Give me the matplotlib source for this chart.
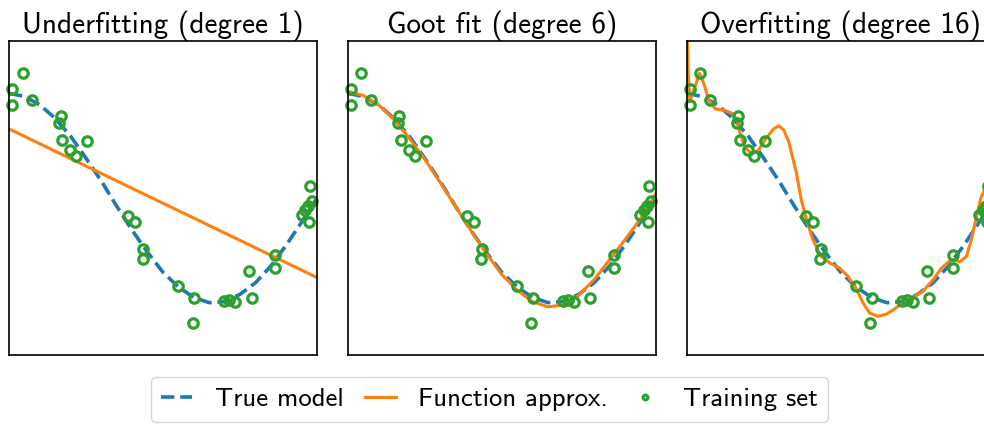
import matplotlib
matplotlib.use("Agg")
import matplotlib.pyplot as plt

plt.rcParams['font.family'] = ['cmss10', 'DejaVu Sans']
plt.rcParams['axes.unicode_minus'] = False

# training points
train_x = [0.009, 0.009, 0.044, 0.075, 0.163, 0.168, 0.173, 0.198, 0.218, 0.253,
           0.386, 0.409, 0.434, 0.436, 0.550, 0.596, 0.600, 0.698, 0.715, 0.735,
           0.780, 0.788, 0.863, 0.865, 0.950, 0.961, 0.972, 0.974, 0.977, 0.984]
train_y = [1.04, 0.89, 1.19, 0.94, 0.72, 0.78, 0.55, 0.46, 0.40, 0.54,
           -0.17, -0.23, -0.58, -0.49, -0.84, -1.19, -0.96, -0.98, -0.97, -0.99,
           -0.70, -0.96, -0.67, -0.54, -0.16, -0.11, -0.08, -0.23, 0.11, -0.03]

# true model (dashed)
true_x = [0.0, 0.05, 0.1, 0.15, 0.2, 0.25, 0.3, 0.35, 0.4, 0.45, 0.5,
          0.55, 0.6, 0.65, 0.7, 0.75, 0.8, 0.85, 0.9, 0.95, 1.0]
true_y = [1.0, 0.97, 0.89, 0.76, 0.59, 0.38, 0.16, -0.08, -0.31, -0.52, -0.71,
          -0.85, -0.95, -1.0, -0.99, -0.92, -0.81, -0.65, -0.45, -0.23, 0.0]

# degree 1 fit
deg1_x = [0.0, 1.0]
deg1_y = [0.66, -0.76]

# degree 6 fit
deg6_x = true_x
deg6_y = [1.02, 0.98, 0.89, 0.75, 0.57, 0.37, 0.15, -0.08, -0.31, -0.53, -0.73,
          -0.88, -0.99, -1.04, -1.02, -0.93, -0.78, -0.59, -0.40, -0.20, 0.04]

# degree 16 fit
deg16_x = [0.0, 0.004, 0.010, 0.025, 0.042, 0.057, 0.071, 0.093, 0.12, 0.147,
           0.163, 0.174, 0.19, 0.212, 0.234, 0.255, 0.282, 0.299, 0.315, 0.331,
           0.347, 0.356, 0.372, 0.389, 0.41, 0.437, 0.464, 0.497, 0.524, 0.551,
           0.572, 0.594, 0.621, 0.648, 0.675, 0.692, 0.735, 0.767, 0.80, 0.827,
           0.854, 0.870, 0.886, 0.908, 0.924, 0.94, 0.955, 0.97, 0.985, 1.0]
deg16_y = [1.8, 1.25, 0.92, 1.05, 1.19, 1.08, 0.94, 0.85, 0.84, 0.81,
           0.75, 0.61, 0.48, 0.42, 0.46, 0.56, 0.66, 0.69, 0.65, 0.54,
           0.35, 0.24, -0.02, -0.21, -0.40, -0.56, -0.62, -0.67, -0.75, -0.87,
           -1.00, -1.10, -1.13, -1.11, -1.06, -1.02, -0.95, -0.89, -0.78, -0.67,
           -0.60, -0.59, -0.61, -0.56, -0.40, -0.19, 0.0, 0.1, 0.2, 0.4]

titles = ['Underfitting (degree 1)', 'Goot fit (degree 6)', 'Overfitting (degree 16)']
fits = [(deg1_x, deg1_y), (deg6_x, deg6_y), (deg16_x, deg16_y)]
lefts = [0.0092, 0.3534, 0.6979]

fig = plt.figure(figsize=(9.84, 4.24), dpi=100)
axes = []
for left, title, (fx, fy) in zip(lefts, titles, fits):
    ax = fig.add_axes([left, 0.1627, 0.313, 0.7406])
    ax.plot(true_x, true_y, '--', color='#1f77b4', lw=2.6, label='True model')
    ax.plot(fx, fy, '-', color='#ff7f0e', lw=2.2, label='Function approx.')
    ax.plot(train_x, train_y, 'o', mfc='none', mec='#2ca02c', ms=6.8, mew=2.3,
            label='Training set', clip_on=False)
    ax.set_xlim(0, 1)
    ax.set_ylim(-1.5, 1.5)
    ax.set_xticks([])
    ax.set_yticks([])
    for s in ax.spines.values():
        s.set_linewidth(1.2)
    ax.set_title(title, fontsize=21, pad=5)
    axes.append(ax)

handles, labels = axes[0].get_legend_handles_labels()
fig.legend(handles, labels, loc='upper center', bbox_to_anchor=(0.4975, 0.111),
           ncol=3, fontsize=19.3, handlelength=1.15, markerscale=0.5,
           handletextpad=0.85, columnspacing=0.78, borderaxespad=0)

fig.savefig('out.png', dpi=100)
